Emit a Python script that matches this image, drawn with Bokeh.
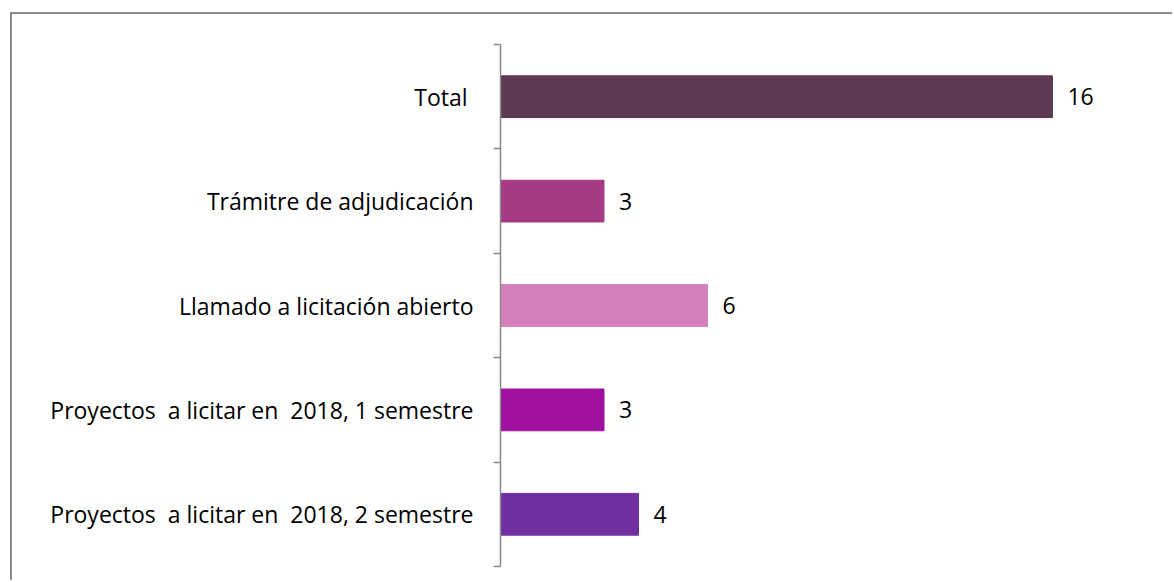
from bokeh.plotting import figure
from bokeh.models import ColumnDataSource, FixedTicker, LabelSet, Range1d
from bokeh.core.properties import value
from bokeh.embed import file_html
from bokeh.resources import INLINE

# Data (top to bottom as shown)
categories = [
    "Total ",
    "Trámitre de adjudicación",
    "Llamado a licitación abierto",
    "Proyectos\u00a0 a licitar en\u00a0 2018, 1 semestre",
    "Proyectos\u00a0 a licitar en\u00a0 2018, 2 semestre",
]
values = [16, 3, 6, 3, 4]
colors = ["#5C3A51", "#A53A85", "#D580BD", "#A010A0", "#7030A0"]

n = len(categories)
ypos = [n - i - 0.5 for i in range(n)]

FONT = "Open Sans"
FSIZE = "23px"

source = ColumnDataSource(dict(
    y=ypos, v=values, c=colors, lbl=[str(v) for v in values]
))

p = figure(width=1172, height=580, output_backend="svg", toolbar_location=None,
           x_range=Range1d(0, 19.45), y_range=Range1d(0, n),
           min_border_left=500, min_border_right=1, min_border_top=44, min_border_bottom=14,
           border_fill_alpha=0, background_fill_alpha=0)
# outer chart-area border (top and left edges visible in the window)
p.styles = {
    "background": "linear-gradient(#8c8c8c, #8c8c8c) 10px 12px / 2px 3000px no-repeat, "
                  "linear-gradient(#8c8c8c, #8c8c8c) 10px 12px / 3000px 2px no-repeat, #ffffff"
}

p.hbar(y="y", right="v", left=0, height=0.4, color="c", source=source)

labels = LabelSet(x="v", y="y", text="lbl", source=source, x_offset=15,
                  text_align="left", text_baseline="middle",
                  text_font=value(FONT), text_font_size=value(FSIZE), text_color="#000000")
p.add_layout(labels)

p.xaxis.visible = False
p.xgrid.visible = False
p.ygrid.visible = False
p.outline_line_color = None

ax = p.yaxis[0]
ax.ticker = FixedTicker(ticks=ypos, minor_ticks=list(range(n + 1)))
ax.major_label_overrides = {y: c for y, c in zip(ypos, categories)}
ax.major_tick_line_color = None
ax.major_tick_in = 0
ax.major_tick_out = 0
ax.minor_tick_in = 0
ax.minor_tick_out = 7
ax.minor_tick_line_color = "#898989"
ax.minor_tick_line_width = 1.5
ax.axis_line_color = "#898989"
ax.axis_line_width = 1.5
ax.major_label_standoff = 20
ax.major_label_text_font = FONT
ax.major_label_text_font_size = FSIZE
ax.major_label_text_color = "#000000"

open("out.html", "w").write(file_html(p, INLINE))
